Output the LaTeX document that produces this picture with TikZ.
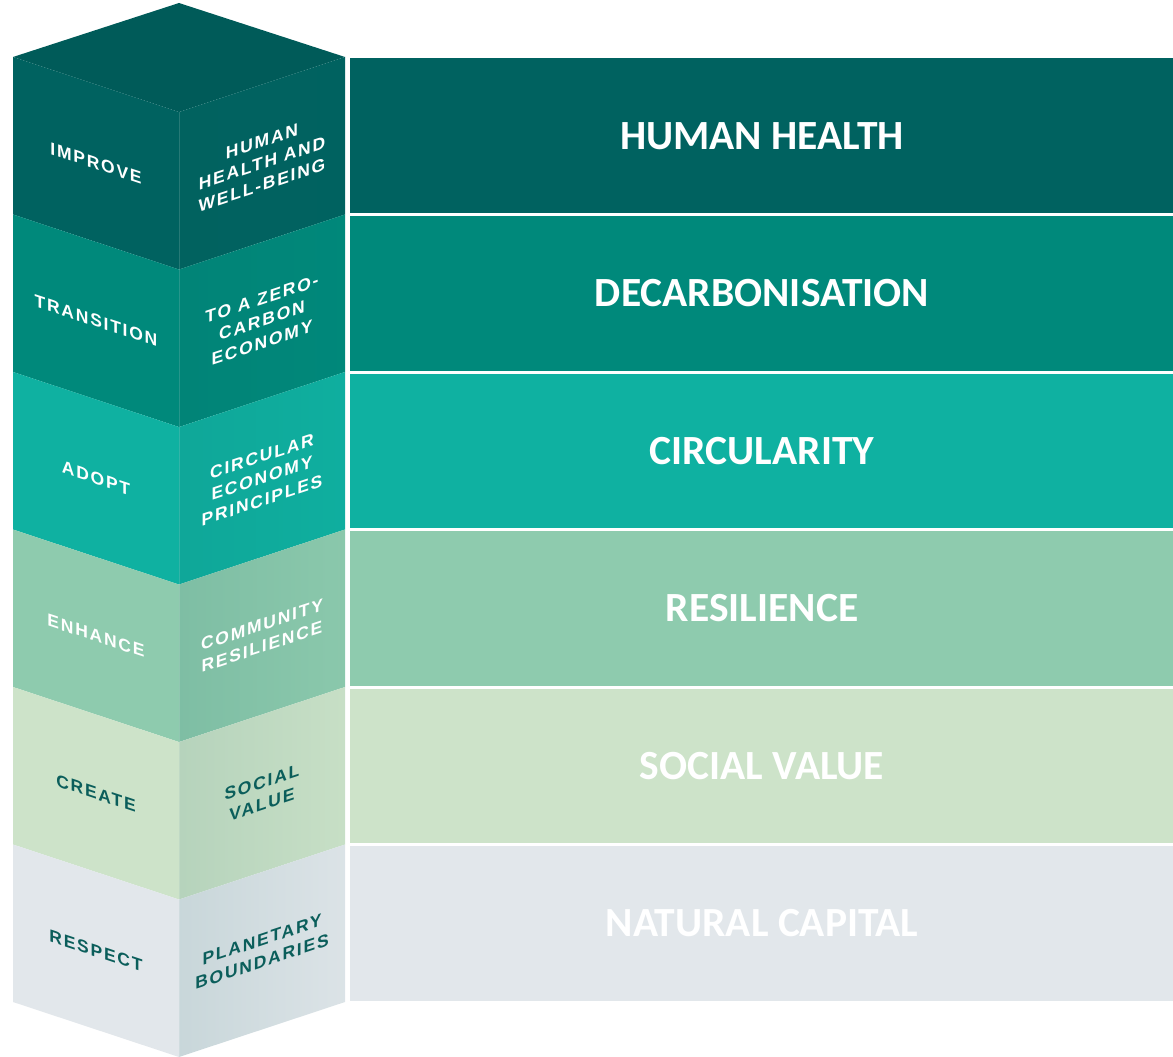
\documentclass[tikz,border=0pt]{standalone}
\usepackage{fontspec}
\usepackage{xcolor}
\usepackage{tikz}
\setmainfont{Liberation Sans}
\newfontfamily\titlefont{Carlito}
\newfontfamily\prismfont[LetterSpace=10]{Liberation Sans}
\definecolor{topteal}{HTML}{005B59}
\definecolor{healthteal}{HTML}{006260}
\definecolor{carbonteal}{HTML}{00897B}
\definecolor{circularteal}{HTML}{0FB1A1}
\definecolor{resiliencegreen}{HTML}{8ECBAE}
\definecolor{socialgreen}{HTML}{CDE3C9}
\definecolor{naturalgray}{HTML}{E2E7EB}
\definecolor{darkink}{HTML}{0B5E5B}

\tikzset{
  actlbl/.style={font=\prismfont\bfseries\fontsize{17.5}{22}\selectfont, yslant=-0.331, align=center, inner sep=0pt},
  objlbl/.style={font=\prismfont\bfseries\fontsize{17.5}{22}\selectfont, yslant=0.331, align=center, inner sep=0pt},
  titlelbl/.style={font=\titlefont\bfseries\fontsize{41.5}{48}\selectfont, text=white, inner sep=0pt}
}

\begin{document}
\begin{tikzpicture}[x=1pt,y=-1pt]
\useasboundingbox (0,0) rectangle (1173,1057);
% top of the column
\fill[topteal] (13,57) -- (179,3) -- (345,57) -- (179,112) -- cycle;
% one layer of the column and one band per row
\foreach \i/\col/\title/\act/\obj/\ink in {
    0/healthteal/HUMAN HEALTH/IMPROVE/{HUMAN\\HEALTH AND\\WELL-BEING}/white,
    1/carbonteal/DECARBONISATION/TRANSITION/{TO A ZERO-\\CARBON\\ECONOMY}/white,
    2/circularteal/CIRCULARITY/ADOPT/{CIRCULAR\\ECONOMY\\PRINCIPLES}/white,
    3/resiliencegreen/RESILIENCE/ENHANCE/{COMMUNITY\\RESILIENCE}/white,
    4/socialgreen/SOCIAL VALUE/CREATE/{SOCIAL\\VALUE}/darkink,
    5/naturalgray/NATURAL CAPITAL/RESPECT/{PLANETARY\\BOUNDARIES}/darkink}
{
    \pgfmathsetmacro{\ya}{57+157.5*\i}
    \pgfmathsetmacro{\yb}{\ya+157.5}
    \pgfmathsetmacro{\ym}{\ya+106.25}
    \fill[\col] (13,\ya) -- (179,\ya+55) -- (179,\yb+55) -- (13,\yb) -- cycle;
    \shade[left color=\col!88!darkink, right color=\col!97!darkink]
        (179,\ya+55) -- (345,\ya) -- (345,\yb) -- (179,\yb+55) -- cycle;
    \fill[\col] (350,\ya+1.5) rectangle (1173,\yb-1.5);
    \node[actlbl, text=\ink] (act\i) at (96,\ym) {\act};
    \node[objlbl, text=\ink] (obj\i) at (262,\ym) {\obj};
    \node[titlelbl] (title\i) at (762,\ya+78.75) {\title};
}
% light front edge
\draw[white, opacity=0.15, line width=0.8] (179,112) -- (179,1057);
\end{tikzpicture}
\end{document}
